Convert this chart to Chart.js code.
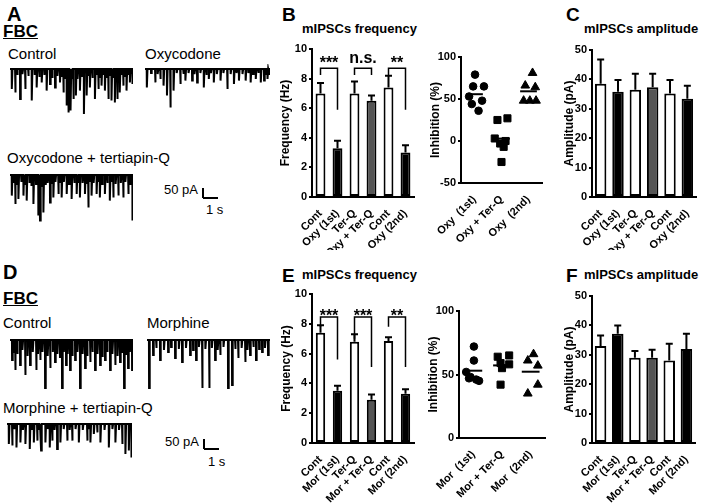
<!DOCTYPE html>
<html>
<head>
<meta charset="utf-8">
<script src="https://cdn.jsdelivr.net/npm/chart.js@4.4.1/dist/chart.umd.min.js"></script>
<style>
body { margin: 0; background: #fff; }
#page { position: relative; width: 709px; height: 504px; overflow: hidden; font-family: 'Liberation Sans', Arial, sans-serif; color: #000; }
.t { position: absolute; white-space: nowrap; line-height: 1; }
.b { font-weight: bold; }
canvas { position: absolute; }
.sb { position: absolute; background: #000; }
</style>
</head>
<body>
<div id="page">
  <div class="t b" style="left:7px;top:4px;font-size:20px">A</div>
  <div class="t b" style="left:3px;top:23px;font-size:17px;text-decoration:underline">FBC</div>
  <div class="t" style="left:8px;top:46px;font-size:15px">Control</div>
  <div class="t" style="left:145px;top:46px;font-size:15px">Oxycodone</div>
  <div class="t" style="left:7px;top:150px;font-size:15px">Oxycodone + tertiapin-Q</div>
  <div class="t" style="left:164px;top:183px;font-size:13px">50 pA</div>
  <div class="sb" style="left:202px;top:188px;width:2px;height:10px"></div>
  <div class="sb" style="left:203px;top:197px;width:15px;height:2px"></div>
  <div class="t" style="left:206px;top:203px;font-size:13px">1 s</div>

  <div class="t b" style="left:3px;top:262px;font-size:20px">D</div>
  <div class="t b" style="left:3px;top:290px;font-size:17px;text-decoration:underline">FBC</div>
  <div class="t" style="left:3px;top:315px;font-size:15px">Control</div>
  <div class="t" style="left:147px;top:315px;font-size:15px">Morphine</div>
  <div class="t" style="left:3px;top:400px;font-size:15px">Morphine + tertiapin-Q</div>
  <div class="t" style="left:165px;top:435px;font-size:13px">50 pA</div>
  <div class="sb" style="left:203px;top:439px;width:2px;height:10px"></div>
  <div class="sb" style="left:204px;top:448px;width:15px;height:2px"></div>
  <div class="t" style="left:208px;top:455px;font-size:13px">1 s</div>

  <div class="t b" style="left:282px;top:5px;font-size:19px">B</div>
  <div class="t b" style="left:302px;top:22px;font-size:13px">mIPSCs frequency</div>
  <div class="t b" style="left:566px;top:5px;font-size:19px">C</div>
  <div class="t b" style="left:584px;top:22px;font-size:13px">mIPSCs amplitude</div>
  <div class="t b" style="left:282px;top:266px;font-size:19px">E</div>
  <div class="t b" style="left:302px;top:268px;font-size:13px">mIPSCs frequency</div>
  <div class="t b" style="left:566px;top:266px;font-size:19px">F</div>
  <div class="t b" style="left:584px;top:268px;font-size:13px">mIPSCs amplitude</div>

  <canvas id="trCtlA"></canvas>
  <canvas id="trOxy"></canvas>
  <canvas id="trOxyTq"></canvas>
  <canvas id="trCtlD"></canvas>
  <canvas id="trMor"></canvas>
  <canvas id="trMorTq"></canvas>
  <canvas id="barB"></canvas>
  <canvas id="dotB"></canvas>
  <canvas id="barC"></canvas>
  <canvas id="barE"></canvas>
  <canvas id="dotE"></canvas>
  <canvas id="barF"></canvas>
</div>
<script>
// ---- data ----
var oxyBarLabels = ['Cont', 'Oxy (1st)', 'Ter-Q', 'Oxy + Ter-Q', 'Cont', 'Oxy (2nd)'];
var morBarLabels = ['Cont', 'Mor (1st)', 'Ter-Q', 'Mor + Ter-Q', 'Cont', 'Mor (2nd)'];
var oxyDotLabels = ['Oxy  (1st)', 'Oxy + Ter-Q', 'Oxy  (2nd)'];
var morDotLabels = ['Mor  (1st)', 'Mor + Ter-Q', 'Mor  (2nd)'];

var oxyFreq = [7.0, 3.3, 7.0, 6.5, 7.4, 3.0];
var oxyFreqSem = [0.7, 0.5, 0.8, 0.35, 0.8, 0.5];
var oxyAmp = [38.5, 35.8, 36.5, 37.3, 35.2, 33.4];
var oxyAmpSem = [8.3, 4.0, 5.4, 4.6, 4.6, 4.4];
var morFreq = [7.4, 3.5, 6.8, 2.9, 6.85, 3.3];
var morFreqSem = [0.5, 0.35, 0.5, 0.35, 0.25, 0.3];
var morAmp = [33.0, 37.2, 29.0, 29.0, 28.1, 32.0];
var morAmpSem = [3.6, 2.8, 2.3, 2.7, 5.7, 5.2];

var oxyInh1st = [79, 65, 65, 53, 48, 44, 36];
var oxyInhTq = [25, 27, 3, 0, -3, -7, -25];
var oxyInh2nd = [81, 66, 64, 48, 48, 48];
var morInh1st = [72, 61, 52, 48, 46, 45, 47];
var morInhTq = [64, 65, 59, 58, 55, 42];
var morInh2nd = [66, 61, 57, 42, 35];
// horizontal scatter of the dots inside each column
var oxyInh1stSpread = [0.02, -0.05, 0.35, -0.2, 0.28, -0.1, 0.15];
var oxyInhTqSpread = [-0.15, 0.22, -0.25, 0.15, -0.05, 0.08, 0];
var oxyInh2ndSpread = [0.15, -0.12, 0.25, -0.18, 0.05, 0.28];
var morInh1stSpread = [0.02, 0.02, -0.25, -0.1, 0.1, 0.2, -0.15];
var morInhTqSpread = [-0.15, 0.25, -0.05, 0.25, 0, -0.05];
var morInh2ndSpread = [0.1, -0.1, 0.25, 0.25, -0.1];

// current traces: event times (s) and amplitudes (pA)
var ctlAT = [0.13,0.39,0.77,1.16,1.67,2.05,2.44,2.82,3.08,3.47,3.85,4.11,4.37,4.49,4.67,4.88,5.08,5.39,5.70,5.91,6.16,6.55,6.81,7.06,7.32,7.58,7.83,8.09,8.27,8.47,8.73,8.99,9.25,9.45,
  0.55,0.95,1.4,1.9,2.25,2.65,3.25,3.65,4.0,4.25,4.58,4.78,5.2,5.55,6.0,6.35,6.68,6.95,7.2,7.45,7.7,7.95,8.18,8.38,8.6,8.86,9.12,9.35];
var ctlAAmp = [100,117,150,100,158,92,67,108,75,92,67,117,183,217,208,150,133,108,225,133,92,150,100,83,108,150,158,167,150,117,83,108,67,75,
  30,25,35,30,40,30,45,35,40,50,60,45,50,40,35,45,30,40,30,45,35,40,50,35,30,40,30,25];
var oxyT = [0.13,0.76,1.15,1.40,1.66,1.91,2.16,2.67,3.06,3.57,3.95,4.46,4.84,5.22,5.73,6.24,6.75,7.13,7.64,8.02,8.41,8.79,9.04,9.30,
  0.45,0.95,2.4,2.9,3.3,3.75,4.2,4.65,5.0,5.45,5.95,6.5,6.95,7.4,7.85,8.2,8.6,9.15,9.42];
var oxyAmpTr = [92,67,50,83,133,192,108,75,58,58,67,92,50,67,58,100,75,58,58,67,50,67,58,50,
  20,25,20,25,20,25,20,30,20,25,20,25,20,25,20,25,20,30,25];
var oxyTqT = [0.13,0.39,0.64,1.03,1.28,1.80,2.18,2.31,2.57,3.08,3.34,3.72,3.98,4.37,4.75,5.14,5.39,5.78,6.03,6.29,6.68,6.93,7.32,7.70,7.96,8.35,8.73,9.12,9.45,
  0.25,0.5,0.85,1.15,1.5,1.65,2.0,2.45,2.75,2.9,3.2,3.5,3.85,4.15,4.55,4.95,5.25,5.6,5.9,6.15,6.45,6.8,7.1,7.5,7.85,8.15,8.55,8.9,9.3];
var oxyTqAmp = [103,145,120,103,128,145,203,228,187,137,112,95,112,95,120,95,112,95,162,103,95,112,95,128,112,103,112,95,228,
  40,50,35,45,40,55,45,60,50,40,45,35,40,35,45,40,35,40,45,35,40,35,45,40,35,45,40,35,50];
var ctlDT = [0.15,0.39,0.77,1.16,1.54,2.01,2.32,2.70,3.09,3.47,4.01,4.32,4.63,5.02,5.40,5.79,6.18,6.56,6.95,7.33,7.72,8.11,8.49,8.80,9.11,9.42,
  0.3,0.55,0.95,1.35,1.75,2.15,2.5,2.9,3.3,3.65,3.85,4.15,4.45,4.8,5.2,5.6,5.95,6.35,6.75,7.1,7.5,7.9,8.3,8.65,8.95,9.25];
var ctlDAmp = [100,150,125,175,125,150,100,240,140,110,240,125,150,100,240,140,110,150,125,100,150,125,110,240,140,150,
  60,70,50,80,60,70,60,80,60,70,90,60,70,80,60,70,80,60,70,80,60,70,80,60,70,60];
var morT = [0.15,0.46,1.00,1.62,2.16,2.70,3.32,3.78,4.25,4.79,5.25,5.64,6.25,6.56,7.03,7.57,7.95,8.41,8.88,9.34,
  0.7,1.3,1.85,2.45,3.0,3.55,4.0,4.5,5.0,5.45,5.9,6.8,7.3,7.75,8.2,8.65,9.1];
var morAmpTr = [240,75,100,60,90,110,75,100,240,240,100,75,240,225,90,110,75,100,60,75,
  40,50,35,45,40,50,35,45,40,50,35,45,40,50,35,45,40];
var morTqT = [0.13,0.38,0.71,1.01,1.39,1.72,2.03,2.28,2.58,2.91,3.24,3.42,3.80,4.05,4.56,4.94,5.45,6.08,6.33,6.59,6.84,7.09,7.73,8.23,8.74,8.99,9.25,9.45,
  0.55,1.2,1.9,2.45,3.1,3.6,4.3,4.75,5.2,5.75,6.2,7.4,8.0,8.5];
var morTqAmp = [100,108,117,92,100,125,92,83,133,92,117,83,125,92,83,83,92,83,92,50,42,92,117,92,100,150,133,167,
  25,30,25,30,25,30,25,30,25,30,25,30,25,30];

// ---- helpers ----
Chart.defaults.font.family = "'Liberation Sans', Arial, sans-serif";
Chart.defaults.font.size = 11;
Chart.defaults.font.weight = 'bold';
Chart.defaults.color = '#000';

function place(id, left, top, width, height) {
  var c = document.getElementById(id);
  c.width = width; c.height = height;
  c.style.left = left + 'px'; c.style.top = top + 'px';
  c.style.width = width + 'px'; c.style.height = height + 'px';
  return c;
}

function trace(id, left, top, width, height, baseline, times, amps) {
  var c = place(id, left, top, width, height);
  var ev = times.map(function (t, i) { return [t, amps[i]]; }).sort(function (a, b) { return a[0] - b[0]; });
  var pts = [{x: 0, y: 0}];
  ev.forEach(function (e) {
    pts.push({x: e[0], y: 0}, {x: e[0] + 0.01, y: -e[1]}, {x: e[0] + 0.06, y: 0});
  });
  pts.push({x: 9.5, y: 0});
  // 50 pA = 10 px in the figure
  var yMax = (baseline - top) * 5, yMin = -(top + height - baseline) * 5;
  new Chart(c, {
    type: 'scatter',
    data: {datasets: [{data: pts, showLine: true, pointRadius: 0, borderColor: '#000', borderWidth: 2}]},
    options: {
      responsive: false, animation: false,
      layout: {padding: 0},
      plugins: {legend: {display: false}, tooltip: {enabled: false}},
      scales: {
        x: {type: 'linear', display: false, min: 0, max: 9.5},
        y: {display: false, min: yMin, max: yMax}
      }
    }
  });
}

var errorBars = {
  id: 'errorBars',
  afterDatasetsDraw: function (chart, args, opts) {
    if (!opts.sem) return;
    var meta = chart.getDatasetMeta(0), y = chart.scales.y, ctx = chart.ctx;
    var vals = chart.data.datasets[0].data;
    ctx.save();
    ctx.strokeStyle = '#000'; ctx.lineWidth = 2;
    meta.data.forEach(function (bar, i) {
      var top = y.getPixelForValue(vals[i] + opts.sem[i]);
      ctx.beginPath();
      ctx.moveTo(bar.x, bar.y); ctx.lineTo(bar.x, top);
      ctx.moveTo(bar.x - 3.5, top); ctx.lineTo(bar.x + 3.5, top);
      ctx.stroke();
    });
    ctx.restore();
  }
};

var sigMarks = {
  id: 'sigMarks',
  afterDatasetsDraw: function (chart, args, opts) {
    if (!opts.marks) return;
    var meta = chart.getDatasetMeta(0), y = chart.scales.y, ctx = chart.ctx;
    ctx.save();
    ctx.strokeStyle = '#000'; ctx.lineWidth = 1.5; ctx.fillStyle = '#000';
    ctx.font = "bold 16px 'Liberation Sans', Arial, sans-serif";
    ctx.textAlign = 'center'; ctx.textBaseline = 'alphabetic';
    opts.marks.forEach(function (m) {
      var xa = meta.data[m.from].x, xb = meta.data[m.to].x, yt = y.getPixelForValue(m.top);
      ctx.beginPath();
      ctx.moveTo(xa, y.getPixelForValue(m.leftEnd));
      ctx.lineTo(xa, yt); ctx.lineTo(xb, yt);
      ctx.lineTo(xb, y.getPixelForValue(m.rightEnd));
      ctx.stroke();
      ctx.fillText(m.text, (xa + xb) / 2, y.getPixelForValue(m.textAt));
    });
    ctx.restore();
  }
};

var barColors = ['#fff', '#000', '#fff', '#555', '#fff', '#000'];

function barPanel(id, box, area, labels, values, sem, yMax, yStep, yTitle, titlePad, barPct, marks) {
  var c = place(id, box.left, box.top, box.right - box.left, box.bottom - box.top);
  new Chart(c, {
    type: 'bar',
    data: {labels: labels, datasets: [{data: values, backgroundColor: barColors, borderColor: '#000', borderWidth: 2,
      borderSkipped: false, barPercentage: barPct, categoryPercentage: 1}]},
    options: {
      responsive: false, animation: false,
      layout: {padding: {left: 0, top: area.top - box.top, right: box.right - area.right, bottom: 0}},
      plugins: {legend: {display: false}, tooltip: {enabled: false}, errorBars: {sem: sem}, sigMarks: {marks: marks}},
      scales: {
        x: {grid: {display: false}, border: {color: '#000', width: 2},
          ticks: {minRotation: 45, maxRotation: 45, autoSkip: false, padding: 2},
          afterFit: function (s) { s.height = box.bottom - area.bottom; }},
        y: {min: 0, max: yMax, ticks: {stepSize: yStep, padding: 2},
          grid: {drawOnChartArea: false, tickLength: 3, color: '#000', lineWidth: 2},
          border: {color: '#000', width: 2},
          title: {display: true, text: yTitle, font: {size: 12, weight: 'bold'}, padding: {top: titlePad, bottom: 0}},
          afterFit: function (s) { s.width = area.left - box.left; }}
      }
    },
    plugins: [errorBars, sigMarks]
  });
}

function mean(a) { return a.reduce(function (s, v) { return s + v; }, 0) / a.length; }

function dotPanel(id, box, area, labels, groups, yMin, yMax, titlePad) {
  var c = place(id, box.left, box.top, box.right - box.left, box.bottom - box.top);
  var sets = [];
  groups.forEach(function (g, i) {
    sets.push({data: g.values.map(function (v, k) { return {x: i + 1 + g.spread[k], y: v}; }),
      pointStyle: g.style, pointRadius: g.radius, backgroundColor: '#000', borderColor: '#000', borderWidth: 1});
    var m = mean(g.values);
    sets.push({data: [{x: i + 0.69, y: m}, {x: i + 1.31, y: m}], showLine: true, pointRadius: 0,
      borderColor: '#000', borderWidth: 2});
  });
  new Chart(c, {
    type: 'scatter',
    data: {datasets: sets},
    options: {
      responsive: false, animation: false,
      layout: {padding: {left: 0, top: area.top - box.top, right: box.right - area.right, bottom: 0}},
      plugins: {legend: {display: false}, tooltip: {enabled: false}},
      scales: {
        x: {type: 'linear', min: 0.5, max: 3.5, grid: {display: false}, border: {color: '#000', width: 2},
          afterBuildTicks: function (s) { s.ticks = [{value: 1}, {value: 2}, {value: 3}]; },
          ticks: {minRotation: 45, maxRotation: 45, autoSkip: false, padding: 2,
            callback: function (v) { return labels[v - 1]; }},
          afterFit: function (s) { s.height = box.bottom - area.bottom; }},
        y: {min: yMin, max: yMax, ticks: {stepSize: 50, padding: 2},
          grid: {drawOnChartArea: false, tickLength: 3, color: '#000', lineWidth: 2},
          border: {color: '#000', width: 2},
          title: {display: true, text: 'Inhibition (%)', font: {size: 12, weight: 'bold'}, padding: {top: titlePad, bottom: 0}},
          afterFit: function (s) { s.width = area.left - box.left; }}
      }
    }
  });
}

// ---- traces ----
trace('trCtlA', 10, 64, 123, 58, 69, ctlAT, ctlAAmp);
trace('trOxy', 145, 64, 125, 58, 69, oxyT, oxyAmpTr);
trace('trOxyTq', 10, 170, 123, 56, 175, oxyTqT, oxyTqAmp);
trace('trCtlD', 10, 335, 123, 58, 340, ctlDT, ctlDAmp);
trace('trMor', 147, 335, 123, 58, 340, morT, morAmpTr);
trace('trMorTq', 7, 419, 125, 44, 424, morTqT, morTqAmp);

// ---- bar and dot panels ----
barPanel('barB', {left: 268, top: 38, right: 424, bottom: 250}, {left: 312, top: 49, right: 414, bottom: 197},
  oxyBarLabels, oxyFreq, oxyFreqSem, 10, 2, 'Frequency (Hz)', 10, 0.58, [
    {from: 0, to: 1, text: '***', top: 8.7, leftEnd: 8.25, rightEnd: 5.9, textAt: 8.7},
    {from: 2, to: 3, text: 'n.s.', top: 8.7, leftEnd: 8.25, rightEnd: 8.25, textAt: 9.05},
    {from: 4, to: 5, text: '**', top: 8.7, leftEnd: 8.25, rightEnd: 5.9, textAt: 8.7}]);

dotPanel('dotB', {left: 420, top: 46, right: 552, bottom: 250}, {left: 461, top: 57, right: 542, bottom: 183},
  oxyDotLabels, [
    {values: oxyInh1st, spread: oxyInh1stSpread, style: 'circle', radius: 3.8},
    {values: oxyInhTq, spread: oxyInhTqSpread, style: 'rect', radius: 5},
    {values: oxyInh2nd, spread: oxyInh2ndSpread, style: 'triangle', radius: 5}], -50, 100, 8);

barPanel('barC', {left: 555, top: 40, right: 706, bottom: 250}, {left: 592, top: 50, right: 696, bottom: 197},
  oxyBarLabels, oxyAmp, oxyAmpSem, 50, 10, 'Amplitude (pA)', 7, 0.66, null);

barPanel('barE', {left: 268, top: 283, right: 424, bottom: 504}, {left: 312, top: 294, right: 414, bottom: 443},
  morBarLabels, morFreq, morFreqSem, 10, 2, 'Frequency (Hz)', 11, 0.55, [
    {from: 0, to: 1, text: '***', top: 8.46, leftEnd: 7.8, rightEnd: 5.6, textAt: 8.2},
    {from: 2, to: 3, text: '***', top: 8.46, leftEnd: 7.0, rightEnd: 5.1, textAt: 8.2},
    {from: 4, to: 5, text: '**', top: 8.46, leftEnd: 7.8, rightEnd: 5.1, textAt: 8.2}]);

dotPanel('dotE', {left: 420, top: 300, right: 555, bottom: 504}, {left: 459, top: 311, right: 545, bottom: 438},
  morDotLabels, [
    {values: morInh1st, spread: morInh1stSpread, style: 'circle', radius: 3.8},
    {values: morInhTq, spread: morInhTqSpread, style: 'rect', radius: 5},
    {values: morInh2nd, spread: morInh2ndSpread, style: 'triangle', radius: 5}], 0, 100, 6);

barPanel('barF', {left: 555, top: 286, right: 706, bottom: 504}, {left: 592, top: 296, right: 695, bottom: 443},
  morBarLabels, morAmp, morAmpSem, 50, 10, 'Amplitude (pA)', 7, 0.67, null);
</script>
</body>
</html>
